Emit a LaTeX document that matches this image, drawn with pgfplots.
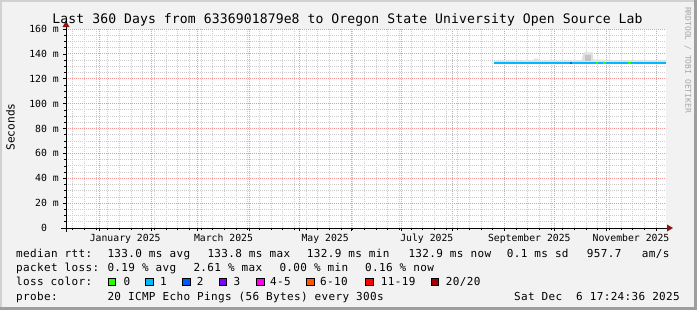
\documentclass[border=0pt]{standalone}
\usepackage{pgfplots}
\pgfplotsset{compat=1.18}
\usepackage{fontspec}
\newfontfamily\monofont{DejaVu Sans Mono}
\newfontfamily\legfont[LetterSpace=3.2]{DejaVu Sans Mono}
\newfontfamily\titlefont[LetterSpace=0.8]{DejaVu Sans Mono}
\definecolor{bgc}{RGB}{242,242,242}
\definecolor{mgrid}{RGB}{242,150,150}
\definecolor{ngrid}{RGB}{205,205,205}
\definecolor{arrowred}{RGB}{140,20,20}
\definecolor{l0}{HTML}{26FF00}
\definecolor{l1}{HTML}{00B8FF}
\definecolor{l2}{HTML}{0059FF}
\definecolor{l3}{HTML}{7E00FF}
\definecolor{l45}{HTML}{FF00EA}
\definecolor{l610}{HTML}{FF5500}
\definecolor{l1119}{HTML}{FF0000}
\definecolor{l20}{HTML}{A10000}
\definecolor{smokeA}{RGB}{224,224,224}
\definecolor{smokeB}{RGB}{196,196,196}
\newcommand{\axf}{\monofont\fontsize{9.8bp}{11bp}\selectfont}
\newcommand{\lgf}{\legfont\fontsize{11bp}{13bp}\selectfont}
\newcommand{\ttlf}{\titlefont\fontsize{13.1bp}{15bp}\selectfont}
\begin{document}
\begin{tikzpicture}[x=1bp,y=1bp]
% background and frame
\fill[bgc] (0,0) rectangle (697,310);
\fill[black!18] (0,308) rectangle (697,310);
\fill[black!18] (0,0) rectangle (2,310);
\fill[black!38] (694,0) rectangle (697,310);
\fill[black!38] (0,0) rectangle (697,3);
\begin{axis}[at={(66bp,82bp)}, anchor=south west, scale only axis,
  width=600bp, height=199bp,
  xmin=0, xmax=360, ymin=0, ymax=160,
  axis line style={draw=none},
  axis background/.style={fill=white},
  xtick={20,51,79,110,140,171,201,232,263,293,324,354},
  xticklabels={},
  minor xtick={4,11,...,354},
  extra x ticks={35.5,94.5,155.5,216.5,278,339},
  extra x tick labels={January 2025,March 2025,May 2025,July 2025,September 2025,November 2025},
  extra x tick style={grid=none, major tick length=0pt},
  ytick={0,20,...,160},
  yticklabels={{0\hphantom{00}},{20 m},{40 m},{60 m},{80 m},{100 m},{120 m},{140 m},{160 m}},
  minor ytick={5,10,...,155},
  grid=both,
  major grid style={mgrid, dash pattern=on 1bp off 1bp, line width=0.8bp},
  minor grid style={ngrid, dash pattern=on 1bp off 1bp, line width=0.8bp},
  xtick pos=left, ytick pos=left,
  tick align=outside,
  major tick length=3bp, minor tick length=2bp,
  tick style={black, line width=0.6bp},
  xticklabel style={font=\axf, anchor=base, inner sep=0pt, yshift=-13.7bp},
  yticklabel style={font=\axf, anchor=east, inner sep=0pt, xshift=-4bp},
  every axis plot/.append style={no marks},
]
% smoke
\addplot[fill=smokeA, draw=none] coordinates {(256.8,132.2) (256.8,134.6) (270,134.8) (280,134.6) (281,136.2) (283,136.2) (284,134.7) (300,134.8) (309.5,135) (310.2,140.5) (311,141.2) (316,141.2) (316.5,135.5) (330,135) (345,134.8) (360,134.7) (360,132.2)} -- cycle;
\addplot[fill=smokeB, draw=none] coordinates {(311.5,134) (311.5,139.2) (315.2,139.2) (315.2,134)} -- cycle;
% median line coloured by loss
\addplot[l1, line width=2bp] coordinates {(256.8,133) (302.4,133)};
\addplot[l2, line width=2bp] coordinates {(302.4,133) (303.4,133)};
\addplot[l1, line width=2bp] coordinates {(303.4,133) (318,133)};
\addplot[l0, line width=2bp] coordinates {(318,133) (319.2,133)};
\addplot[l1, line width=2bp] coordinates {(319.2,133) (322.2,133)};
\addplot[l0, line width=2bp] coordinates {(322.2,133) (324,133)};
\addplot[l1, line width=2bp] coordinates {(324,133) (337.2,133)};
\addplot[l0, line width=2bp] coordinates {(337.2,133) (339,133)};
\addplot[l1, line width=2bp] coordinates {(339,133) (360,133)};
\end{axis}
% axis lines with arrows
\draw[black, line width=0.9bp] (61,82) -- (668,82);
\fill[arrowred] (667,78.5) -- (673,82) -- (667,85.5) -- cycle;
\draw[black, line width=0.9bp] (66,78) -- (66,284);
\fill[arrowred] (62.5,283) -- (66,289) -- (69.5,283) -- cycle;
% title and axis title
\node[anchor=base, inner sep=0pt] at (347.5,286.5) {\ttlf Last 360 Days from 6336901879e8 to Oregon State University Open Source Lab};
\node[rotate=90, inner sep=0pt] at (10.5,183) {\monofont\fontsize{11.2bp}{13bp}\selectfont Seconds};
\node[rotate=-90, inner sep=0pt, text=black!35] at (688,250) {\monofont\fontsize{8bp}{9bp}\selectfont RRDTOOL / TOBI OETIKER};
% legend row 1
\begin{scope}[every node/.style={anchor=base west, inner sep=0pt, font=\lgf}]
\node at (16,52.7) {median rtt:};
\node at (107.3,52.7) {133.0 ms avg};
\node at (207.3,52.7) {133.8 ms max};
\node at (306.7,52.7) {132.9 ms min};
\node at (408.3,52.7) {132.9 ms now};
\node at (506.7,52.7) {0.1 ms sd};
\node at (586.7,52.7) {957.7};
\node at (641.7,52.7) {am/s};
% row 2
\node at (16,38.4) {packet loss:};
\node at (107.3,38.4) {0.19 \% avg};
\node at (193.3,38.4) {2.61 \% max};
\node at (279.3,38.4) {0.00 \% min};
\node at (365,38.4) {0.16 \% now};
% row 3
\node at (16,24.2) {loss color:};
\node at (123.3,24.2) {0};
\node at (160,24.2) {1};
\node at (196.7,24.2) {2};
\node at (233.3,24.2) {3};
\node at (270,24.2) {4-5};
\node at (320,24.2) {6-10};
\node at (380.7,24.2) {11-19};
\node at (445.7,24.2) {20/20};
% row 4
\node at (16,10) {probe:};
\node at (107.3,10) {20 ICMP Echo Pings (56 Bytes) every 300s};
\node[anchor=base east] at (680,10) {Sat Dec~~6 17:24:36 2025};
\end{scope}
\begin{scope}[line width=0.8bp]
\draw[fill=l0] (108.3,24.3) rectangle ++(7.4,7.4);
\draw[fill=l1] (145.7,24.3) rectangle ++(7.4,7.4);
\draw[fill=l2] (182.7,24.3) rectangle ++(7.4,7.4);
\draw[fill=l3] (219.2,24.3) rectangle ++(7.4,7.4);
\draw[fill=l45] (256.7,24.3) rectangle ++(7.4,7.4);
\draw[fill=l610] (306.7,24.3) rectangle ++(7.4,7.4);
\draw[fill=l1119] (365.7,24.3) rectangle ++(7.4,7.4);
\draw[fill=l20] (431,24.3) rectangle ++(7.4,7.4);
\end{scope}
\end{tikzpicture}
\end{document}
